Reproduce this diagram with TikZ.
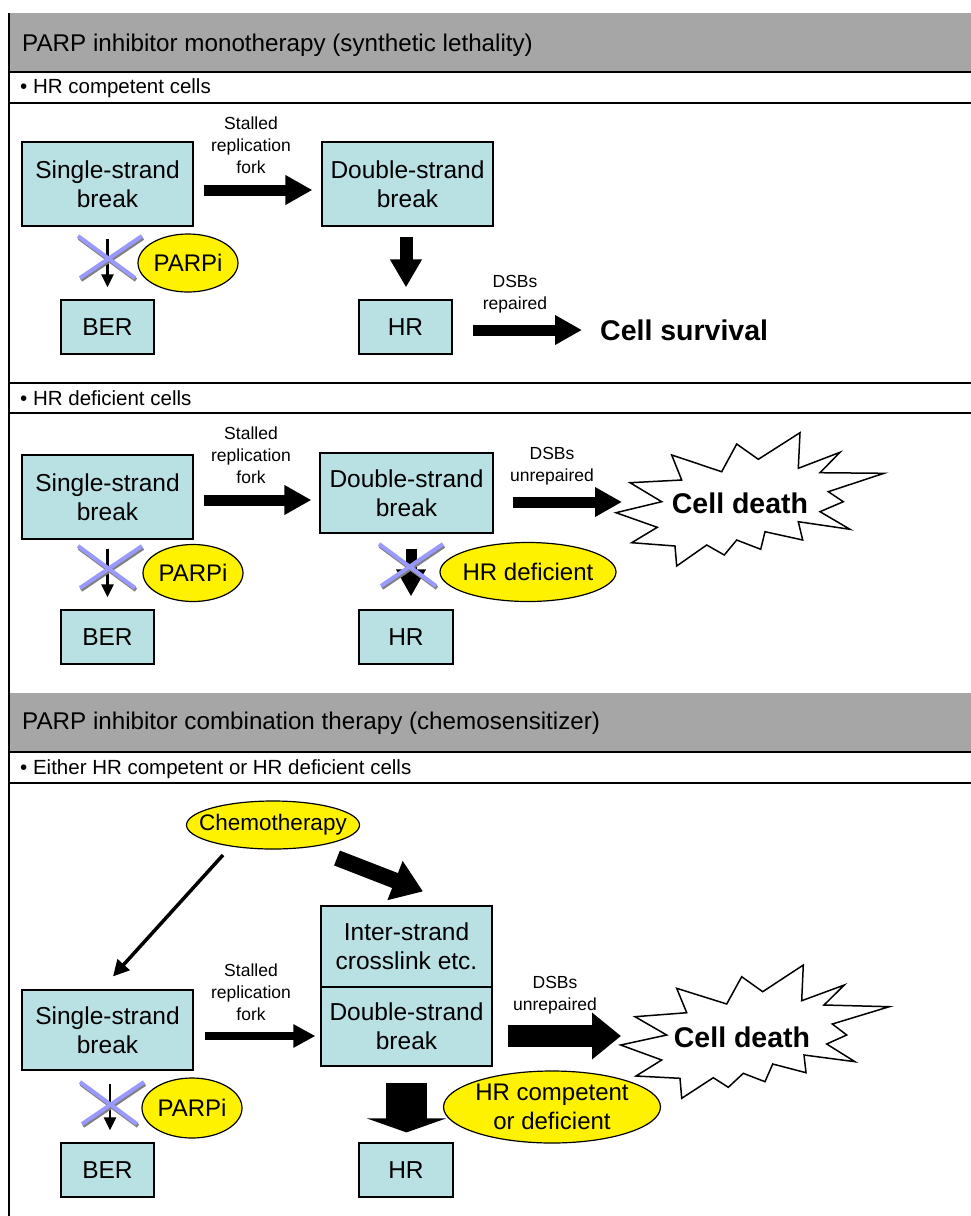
\documentclass[tikz,border=0pt]{standalone}
\usepackage{fontspec}
\setmainfont{Liberation Sans}
\usetikzlibrary{arrows.meta,calc,shapes.geometric}
\definecolor{boxfill}{RGB}{185,224,227}
\definecolor{hdrgray}{RGB}{166,166,166}
\definecolor{crossblue}{RGB}{153,153,255}
\definecolor{crossgray}{RGB}{128,128,128}
\begin{document}
\begin{tikzpicture}[x=1pt,y=-1pt,
  box/.style={draw=black, line width=1.2pt, fill=boxfill, minimum width=171pt, minimum height=84pt, align=center, inner sep=0pt, font=\fontsize{24.5}{29}\selectfont},
  smallbox/.style={box, minimum width=93pt, minimum height=54pt},
  oval/.style={draw=black, line width=1.2pt, fill=yellow, ellipse, inner sep=0pt, align=center, font=\fontsize{24}{29}\selectfont},
  lbl/.style={align=center, inner sep=0pt, font=\fontsize{17.5}{22}\selectfont},
  hdr/.style={anchor=west, inner sep=0pt, font=\fontsize{24.2}{28}\selectfont},
  bul/.style={anchor=west, inner sep=0pt, font=\fontsize{20.5}{24}\selectfont},
  bigbold/.style={inner sep=0pt, font=\bfseries\fontsize{28.5}{34}\selectfont},
  rule/.style={line width=1.2pt},
  blockA/.style={line width=11pt, -{Triangle[length=27pt,width=28pt]}},
  blockdown/.style={line width=13pt, -{Triangle[length=28pt,width=30pt]}},
  thinarrow/.style={line width=2.5pt, -{Triangle[length=13pt,width=12pt]}},
  chemothin/.style={line width=3.5pt, -{Triangle[length=16pt,width=16pt]}},
  chemothick/.style={line width=16pt, -{Triangle[length=30pt,width=40pt]}},
  blockS/.style={line width=8pt, -{Triangle[length=22pt,width=22pt]}},
  blockB/.style={line width=22pt, -{Triangle[length=29pt,width=45pt]}},
  blockH/.style={line width=41pt, -{Triangle[length=14pt,width=79pt]}},
  burst/.style={draw=black, line width=1.5pt, fill=white, line join=miter},
  xmark/.pic={
    \draw[crossgray, line width=4pt] (-30,-19) -- (27,23);
    \draw[crossgray, line width=4pt] (-28,23) -- (34,-19);
    \draw[crossblue, line width=4pt] (-31,-21) -- (26,21);
    \draw[crossblue, line width=4pt] (-29,21) -- (33,-21);
  }
]
\useasboundingbox (0,0) rectangle (971,1216);
\fill[white] (0,0) rectangle (971,1216);

% ---------- frame ----------
\fill[hdrgray] (9,13) rectangle (971,72);
\fill[hdrgray] (9,693) rectangle (971,752);
\draw[rule] (9,13) -- (9,1216);
\draw[rule] (9,72) -- (971,72);
\draw[rule] (9,103) -- (971,103);
\draw[rule] (9,383) -- (971,383);
\draw[rule] (9,413) -- (971,413);
\draw[rule] (9,752) -- (971,752);
\draw[rule] (9,783) -- (971,783);

\node[hdr] (h1) at (22,45) {PARP inhibitor monotherapy (synthetic lethality)};
\node[bul] (b1) at (20,88) {\textbullet\ HR competent cells};
\node[bul] (b2) at (20,398) {\textbullet\ HR deficient cells};
\node[hdr] (h2) at (22,723) {PARP inhibitor combination therapy (chemosensitizer)};
\node[bul] (b3) at (20,769) {\textbullet\ Either HR competent or HR deficient cells};

% ---------- section 1 ----------
\node[box] (ssb1) at (107.5,184) {Single-strand\\break};
\node[box] (dsb1) at (407.5,184) {Double-strand\\break};
\node[smallbox] (ber1) at (107.5,327) {BER};
\node[smallbox] (hr1) at (405.5,327) {HR};
\node[oval, minimum width=100pt, minimum height=58pt] (parpi1) at (188,263) {PARPi};
\node[bigbold, anchor=west] (surv) at (600,330) {Cell survival};
\node[lbl] (stall1) at (251,145) {Stalled\\replication\\fork};
\node[lbl] (rep1) at (515,294) {DSBs\\repaired};

\draw[blockA] ($(ssb1.east)+(10,6)$) -- ($(dsb1.west)+(-9,6)$);
\draw[blockdown] ($(dsb1.south)+(-1.5,10)$) -- ($(hr1.north)+(0.5,-12)$);
\draw[thinarrow] ($(ssb1.south)+(0,12)$) -- ($(ber1.north)+(0,-12)$);
\draw[blockA] ($(hr1.east)+(20,3)$) -- ($(surv.west)+(-18,0)$);
\pic at (109,257) {xmark};

% ---------- section 2 ----------
\node[box] (ssb2) at (107.5,497) {Single-strand\\break};
\node[box, minimum width=173pt, minimum height=80pt] (dsb2) at (406.5,493) {Double-strand\\break};
\node[smallbox] (ber2) at (107.5,637) {BER};
\node[smallbox, minimum width=94pt] (hr2) at (406,637) {HR};
\node[oval, minimum width=100pt, minimum height=57pt] (parpi2) at (193,573) {PARPi};
\node[oval, inner xsep=-8pt, minimum width=176pt, minimum height=59pt] (hrdef) at (528,572) {HR deficient};
\node[lbl] (stall2) at (251,455) {Stalled\\replication\\fork};
\node[lbl] (unrep2) at (552,466) {DSBs\\unrepaired};

\draw[burst] (630,482.7) -- (681.7,480) -- (671.7,455) -- (721.7,471.7) -- (736.7,444)
  -- (758.3,459.3) -- (800,432.7) -- (798.3,468.3) -- (840,452.3) -- (820,472.7)
  -- (884,473.3) -- (828.3,491.7) -- (843.3,501.7) -- (820,511.7) -- (850,529.3)
  -- (798.3,521.7) -- (802.7,540) -- (765,531.7) -- (760.7,549.3) -- (736.7,540)
  -- (724.3,555) -- (706.7,545) -- (676.7,566) -- (675,546) -- (631.7,542.7)
  -- (657.3,527.3) -- (616,512.7) -- (661.7,501.7) -- cycle;
\node[bigbold] (cd2) at (740,503) {Cell death};

\draw[blockA] ($(ssb2.east)+(10,3)$) -- ($(dsb2.west)+(-8,7)$);
\draw[blockA] ($(dsb2.east)+(19,9)$) -- ($(cd2.center)+(-118,-1)$);
\draw[blockA] ($(dsb2.south)+(4.5,15)$) -- ($(hr2.north)+(5,-13)$);
\draw[thinarrow] ($(ssb2.south)+(0,9)$) -- ($(ber2.north)+(0,-12)$);
\pic at (109,567) {xmark};
\pic at (410,565) {xmark};

% ---------- section 3 ----------
\node[oval, inner xsep=-24pt, minimum width=173pt, minimum height=48pt, font=\fontsize{22.5}{27}\selectfont] (chemo) at (273,825) {Chemotherapy};
\node[box, minimum height=81pt] (inter) at (406.5,946.5) {Inter-strand\\crosslink etc.};
\node[box, minimum height=79pt] (dsb3) at (406.5,1026.5) {Double-strand\\break};
\node[box, minimum height=80pt] (ssb3) at (107.5,1030) {Single-strand\\break};
\node[smallbox] (ber3) at (107.5,1170) {BER};
\node[smallbox, minimum width=94pt] (hr3) at (406,1170) {HR};
\node[oval, minimum width=100pt, minimum height=60pt] (parpi3) at (192,1108) {PARPi};
\node[oval, minimum width=209pt, minimum height=72pt] (hrcomp) at (552,1107) {HR competent\\or deficient};
\node[lbl] (stall3) at (251,992) {Stalled\\replication\\fork};
\node[lbl] (unrep3) at (555,995) {DSBs\\unrepaired};

\draw[burst] (635,1016.7) -- (686.7,1012.7) -- (676.7,988.3) -- (726.7,1004) -- (741.7,976.7)
  -- (762.7,991.7) -- (803.3,965) -- (801.7,1000.7) -- (844.3,985) -- (824,1005)
  -- (889.3,1006.7) -- (832.3,1024) -- (846.7,1035) -- (826.7,1044) -- (855,1061.7)
  -- (804,1055) -- (806,1072.7) -- (772.7,1064) -- (765,1081.7) -- (743.3,1073.3)
  -- (728.3,1087.3) -- (713.3,1077.7) -- (681.7,1098.3) -- (680,1078.3) -- (636,1076)
  -- (661.7,1060) -- (620.7,1045) -- (666.7,1035) -- cycle;
\node[bigbold] (cd3) at (742,1037) {Cell death};

\draw[chemothin] ($(chemo.center)+(-50,30)$) -- ($(ssb3.north)+(5.5,-13)$);
\draw[chemothick] ($(chemo.center)+(64,33)$) -- ($(inter.north)+(16.5,-14)$);
\draw[blockS] ($(ssb3.east)+(11,6)$) -- ($(dsb3.west)+(-5,9.5)$);
\draw[blockB] ($(dsb3.east)+(15,9.5)$) -- ($(cd3.center)+(-121,-1)$);
\draw[blockH] ($(dsb3.south)+(0,16)$) -- ($(hr3.north)+(0.5,-10)$);
\draw[thinarrow] ($(ssb3.south)+(2.5,13)$) -- ($(ber3.north)+(2.5,-12)$);
\pic at (111,1103) {xmark};
\end{tikzpicture}
\end{document}
